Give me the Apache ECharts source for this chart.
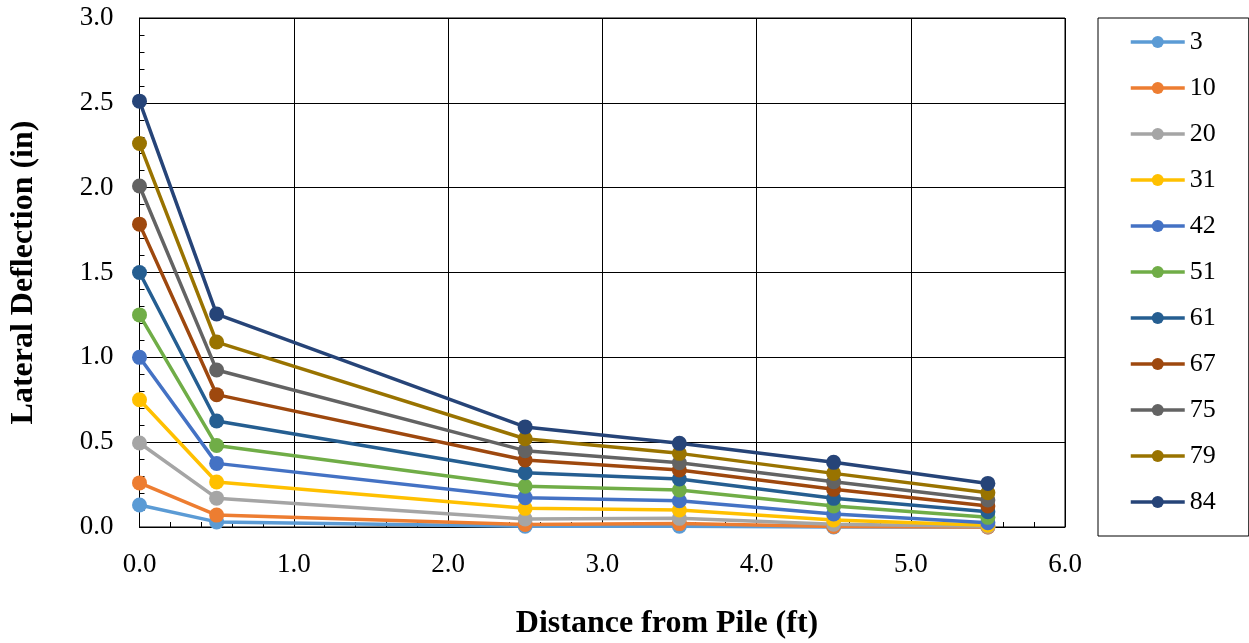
<!DOCTYPE html>
<html>
<head>
<meta charset="utf-8">
<script src="https://cdn.jsdelivr.net/npm/echarts@6/dist/echarts.min.js"></script>
<style>
html,body{margin:0;padding:0;background:#fff;}
#chart{width:1249px;height:643px;}
</style>
</head>
<body>
<div id="chart"></div>
<script>
const distances = [0, 0.5, 2.5, 3.5, 4.5, 5.5];
const seriesNames = ['3', '10', '20', '31', '42', '51', '61', '67', '75', '79', '84'];
const s3  = [0.13, 0.03, 0.005, 0.005, 0.0, 0.0];
const s10 = [0.26, 0.07, 0.015, 0.02, 0.003, 0.0];
const s20 = [0.495, 0.17, 0.047, 0.051, 0.016, 0.005];
const s31 = [0.75, 0.265, 0.11, 0.10, 0.041, 0.01];
const s42 = [1.00, 0.375, 0.173, 0.155, 0.077, 0.025];
const s51 = [1.25, 0.48, 0.24, 0.218, 0.124, 0.057];
const s61 = [1.50, 0.625, 0.32, 0.283, 0.169, 0.09];
const s67 = [1.785, 0.78, 0.395, 0.336, 0.222, 0.124];
const s75 = [2.01, 0.925, 0.45, 0.379, 0.267, 0.159];
const s79 = [2.26, 1.09, 0.52, 0.434, 0.316, 0.202];
const s84 = [2.51, 1.255, 0.59, 0.493, 0.381, 0.257];
const seriesValues = [s3, s10, s20, s31, s42, s51, s61, s67, s75, s79, s84];
const colors = ['#5B9BD5', '#ED7D31', '#A5A5A5', '#FFC000', '#4472C4', '#70AD47', '#255E91', '#9E480E', '#636363', '#997300', '#264478'];
const xTitle = 'Distance from Pile (ft)';
const yTitle = 'Lateral Deflection (in)';

const FONT = '"Liberation Serif", "Times New Roman", serif';
const chart = echarts.init(document.getElementById('chart'), null, {renderer: 'canvas'});

const series = seriesNames.map((name, i) => ({
  name: name,
  type: 'line',
  data: distances.map((d, j) => [d, seriesValues[i][j]]),
  symbol: 'circle',
  symbolSize: 15,
  showSymbol: true,
  clip: false,
  lineStyle: {width: 3.5, color: colors[i]},
  itemStyle: {color: colors[i]},
  emphasis: {disabled: true},
  animation: false
}));

chart.setOption({
  animation: false,
  color: colors,
  title: {
    text: xTitle,
    left: 667,
    top: 608,
    textAlign: 'center',
    padding: 0,
    textStyle: {fontFamily: FONT, fontSize: 32, fontWeight: 'bold', color: '#000'}
  },
  grid: {left: 139.5, right: 184, top: 18, bottom: 116, show: true, borderColor: '#000', borderWidth: 1, outerBoundsMode: 'none', containLabel: false},
  legend: {
    orient: 'vertical',
    left: 1098,
    top: 18,
    padding: [11, 33, 21, 31],
    itemWidth: 54,
    itemHeight: 15,
    itemGap: 20,
    borderColor: '#000',
    borderWidth: 1,
    lineStyle: {width: 3.5},
    textStyle: {fontFamily: FONT, fontSize: 26, color: '#000', lineHeight: 26},
    data: seriesNames
  },
  xAxis: {
    type: 'value',
    min: 0, max: 6, interval: 1,
    axisLine: {show: true, lineStyle: {color: '#000', width: 1}},
    axisTick: {show: false, inside: true},
    minorTick: {show: true, splitNumber: 5, length: 5, lineStyle: {color: '#000', width: 1}},
    axisLabel: {fontFamily: FONT, fontSize: 27, color: '#000', margin: 24, formatter: v => v.toFixed(1)},
    splitLine: {show: true, lineStyle: {color: '#000', width: 1}}
  },
  yAxis: {
    type: 'value',
    min: 0, max: 3, interval: 0.5,
    name: yTitle,
    nameLocation: 'middle',
    nameGap: 100,
    nameTextStyle: {fontFamily: FONT, fontSize: 32, fontWeight: 'bold', color: '#000'},
    axisLine: {show: true, lineStyle: {color: '#000', width: 1}},
    axisTick: {show: false, inside: true},
    minorTick: {show: true, splitNumber: 5, length: 5, lineStyle: {color: '#000', width: 1}},
    axisLabel: {fontFamily: FONT, fontSize: 27, color: '#000', margin: 26, formatter: v => v.toFixed(1)},
    splitLine: {show: true, lineStyle: {color: '#000', width: 1}}
  },
  series: series
});
</script>
</body>
</html>
